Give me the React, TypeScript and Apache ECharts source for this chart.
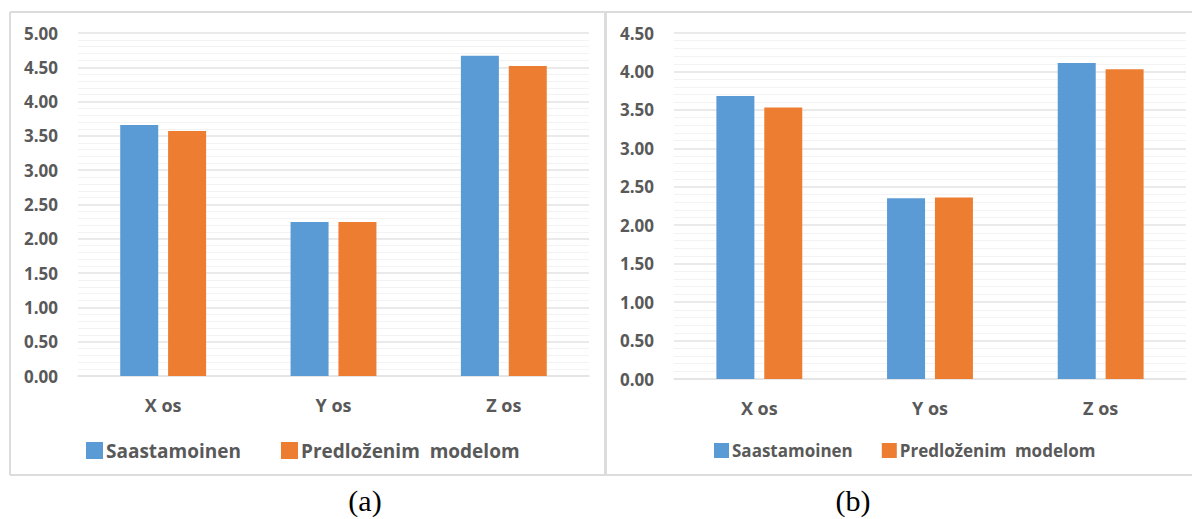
import React, { useEffect, useRef } from "react";
import * as echarts from "echarts";

const categories = ["X os", "Y os", "Z os"];
const seriesNames = ["Saastamoinen", "Predloženim  modelom"];
const aSaastamoinen = [3.66, 2.245, 4.67];
const aPredlozenim = [3.57, 2.245, 4.52];
const bSaastamoinen = [3.68, 2.35, 4.11];
const bPredlozenim = [3.53, 2.36, 4.03];
const aMax = 5;
const bMax = 4.5;
const captions = ["(a)", "(b)"];

const BLUE = "#5B9BD5";
const ORANGE = "#ED7D31";
const TXT = "#595959";
const FONT = "Open Sans";

export default function App() {
  const ref = useRef<HTMLDivElement>(null);
  useEffect(() => {
    if (!ref.current) return;
    const chart = echarts.init(ref.current, null, { renderer: "svg" });
    const yAxisBase = (max: number, idx: number) => ({
      type: "value",
      gridIndex: idx,
      min: 0,
      max,
      interval: 0.5,
      axisLine: { show: false },
      axisTick: { show: false },
      axisLabel: {
        color: TXT,
        fontFamily: FONT,
        fontWeight: "bold",
        fontSize: 17,
        margin: 20,
        formatter: (v: number) => v.toFixed(2),
      },
      splitLine: { show: true, lineStyle: { color: "#e3e3e3", width: 1.5 } },
      minorTick: { show: false, splitNumber: 5 },
      minorSplitLine: { show: true, lineStyle: { color: "#f3f3f3", width: 1 } },
    });
    const xAxisBase = (idx: number) => ({
      type: "category",
      gridIndex: idx,
      data: categories,
      axisLine: { show: true, lineStyle: { color: "#e3e3e3", width: 1.5 } },
      axisTick: { show: false },
      axisLabel: {
        color: TXT,
        fontFamily: FONT,
        fontWeight: "bold",
        fontSize: 18,
        margin: 20,
      },
    });
    const barBase = {
      type: "bar",
      barWidth: 38,
      barGap: "26%",
    };
    chart.setOption({
      animation: false,
      backgroundColor: "#ffffff",
      grid: [
        { left: 78, right: 603, top: 33, bottom: 143 },
        { left: 674, right: 6, top: 33, bottom: 140 },
      ],
      xAxis: [xAxisBase(0), xAxisBase(1)],
      yAxis: [yAxisBase(aMax, 0), yAxisBase(bMax, 1)],
      legend: [
        {
          left: 81,
          top: 436,
          icon: "rect",
          itemWidth: 17,
          itemHeight: 17,
          itemGap: 40,
          selectedMode: false,
          textStyle: { color: TXT, fontFamily: FONT, fontWeight: "bold", fontSize: 19, padding: [0, 0, 0, -2] },
          data: seriesNames,
        },
        {
          left: 709,
          top: 437,
          icon: "rect",
          itemWidth: 15,
          itemHeight: 15,
          itemGap: 29,
          selectedMode: false,
          textStyle: { color: TXT, fontFamily: FONT, fontWeight: "bold", fontSize: 17, padding: [0, 0, 0, -2] },
          data: seriesNames,
        },
      ],
      series: [
        { ...barBase, name: seriesNames[0], xAxisIndex: 0, yAxisIndex: 0, data: aSaastamoinen, itemStyle: { color: BLUE } },
        { ...barBase, name: seriesNames[1], xAxisIndex: 0, yAxisIndex: 0, data: aPredlozenim, itemStyle: { color: ORANGE } },
        { ...barBase, name: seriesNames[0], xAxisIndex: 1, yAxisIndex: 1, data: bSaastamoinen, itemStyle: { color: BLUE } },
        { ...barBase, name: seriesNames[1], xAxisIndex: 1, yAxisIndex: 1, data: bPredlozenim, itemStyle: { color: ORANGE } },
      ],
      graphic: [
        { type: "line", shape: { x1: 10, y1: 12, x2: 1192, y2: 12 }, style: { stroke: "#dcdcdc", lineWidth: 2 } },
        { type: "line", shape: { x1: 10, y1: 12, x2: 10, y2: 475 }, style: { stroke: "#dcdcdc", lineWidth: 2 } },
        { type: "line", shape: { x1: 10, y1: 475, x2: 1192, y2: 475 }, style: { stroke: "#dcdcdc", lineWidth: 2 } },
        { type: "line", shape: { x1: 605.5, y1: 12, x2: 605.5, y2: 475 }, style: { stroke: "#dcdcdc", lineWidth: 3 } },
        {
          type: "text",
          x: 365,
          y: 500,
          style: { text: captions[0], fill: "#000", font: '30px "Liberation Serif"', align: "center", verticalAlign: "middle" },
        },
        {
          type: "text",
          x: 853,
          y: 500,
          style: { text: captions[1], fill: "#000", font: '30px "Liberation Serif"', align: "center", verticalAlign: "middle" },
        },
      ],
    });
    return () => chart.dispose();
  }, []);
  return (
    <div
      ref={ref}
      style={{ position: "fixed", left: 0, top: 0, width: 1192, height: 519, background: "#fff" }}
    />
  );
}
